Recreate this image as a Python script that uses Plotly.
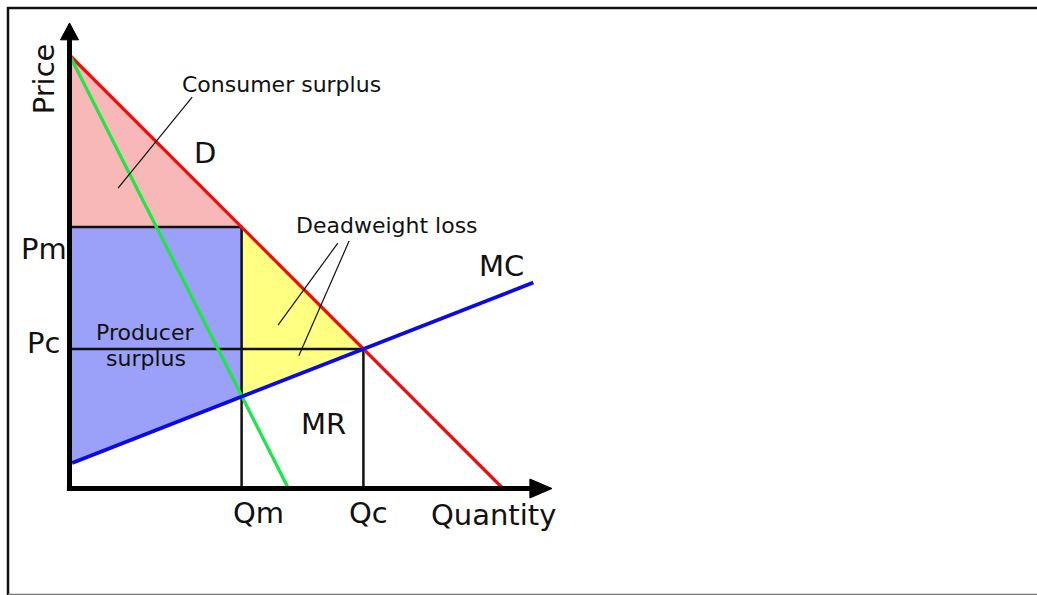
import plotly.graph_objects as go

# ---- data (price/quantity units, demand intercept = 100) ----
demand_q = [0, 100]
demand_p = [100, 0]
mr_q = [0, 50.5]
mr_p = [100, 0]
mc_q = [0.6, 107.0]
mc_p = [5.9, 47.5]
mc_at_zero = 5.7
qm, pm = 39.7, 60.3          # monopoly quantity / price
mc_at_qm = 21.3              # MC = MR at Qm
qc, pc = 67.8, 32.2          # competitive quantity / price
axis_q_end, axis_p_end = 106.7, 104.0
arrow_q_tip, arrow_p_tip = 111.3, 107.4

# pixel mapping used for the canvas: origin at (69.5, 488.5), 4.335 px per unit
W, H = 1037, 595
S, X0, Y0 = 4.335, 69.5, 488.5
xr = [-X0 / S, (W - X0) / S]
yr = [(Y0 - H) / S, Y0 / S]

FONT = "DejaVu Sans"
fig = go.Figure()

def poly(xs, ys, color):
    fig.add_trace(go.Scatter(x=xs, y=ys, fill="toself", fillcolor=color, mode="none",
                             hoverinfo="skip", showlegend=False))

def line(xs, ys, color, width):
    fig.add_trace(go.Scatter(x=xs, y=ys, mode="lines", line=dict(color=color, width=width),
                             hoverinfo="skip", showlegend=False))

# filled areas
poly([0, qm, 0, 0], [demand_p[0], pm, pm, demand_p[0]], "#f9b8b8")            # consumer surplus
poly([0, qm, qm, 0, 0], [pm, pm, mc_at_qm, mc_at_zero, pm], "#9ba0f9")        # producer surplus
poly([qm, qc, qm, qm], [pm, pc, mc_at_qm, pm], "#ffff82")                     # deadweight loss

# black guide lines
line([0, qm, qm], [pm, pm, 0], "#111111", 2.5)
line([0, qc, qc], [pc, pc, 0], "#111111", 2.5)

# curves
line(demand_q, demand_p, "#ee1010", 3.3)
line(mr_q, mr_p, "#20e548", 3.3)
line(mc_q, mc_p, "#0a0ae8", 3.7)

# leader lines
line([28.3, 11.2], [90.3, 69.3], "#111111", 1.2)
line([61.9, 48.1], [56.6, 37.7], "#111111", 1.2)
line([64.5, 52.9], [57.1, 30.6], "#111111", 1.2)

# axes with arrowheads
line([0, 0], [-0.6, axis_p_end], "black", 5)
line([-0.6, axis_q_end], [0, 0], "black", 5)
hw_x = 9 / S
fig.add_trace(go.Scatter(x=[-hw_x, 0, hw_x, -hw_x], y=[axis_p_end - 0.5, arrow_p_tip, axis_p_end - 0.5, axis_p_end - 0.5],
                         fill="toself", fillcolor="black", mode="lines", line=dict(color="black", width=1),
                         hoverinfo="skip", showlegend=False))
hw_y = 9.5 / S
fig.add_trace(go.Scatter(x=[axis_q_end - 0.5, arrow_q_tip, axis_q_end - 0.5, axis_q_end - 0.5], y=[-hw_y, 0, hw_y, -hw_y],
                         fill="toself", fillcolor="black", mode="lines", line=dict(color="black", width=1),
                         hoverinfo="skip", showlegend=False))

# labels
big, small = 29, 22
labels = [
    ("Price", -6.0, 94.5, big, -90),
    ("Consumer surplus", 48.8, 93.3, small, 0),
    ("D", 31.3, 77.4, big, 0),
    ("Deadweight loss", 73.2, 60.7, small, 0),
    ("MC", 99.7, 51.3, big, 0),
    ("Pm", -5.9, 55.2, big, 0),
    ("Producer", 17.4, 36.0, small, 0),
    ("surplus", 17.7, 29.9, small, 0),
    ("Pc", -6.1, 33.6, big, 0),
    ("MR", 58.5, 14.9, big, 0),
    ("Qm", 43.7, -5.7, big, 0),
    ("Qc", 69.0, -5.7, big, 0),
    ("Quantity", 97.7, -6.1, big, 0),
]
for txt, x, y, size, ang in labels:
    fig.add_annotation(x=x, y=y, text=txt, showarrow=False, xanchor="center", yanchor="middle",
                       textangle=ang, font=dict(family=FONT, size=size, color="#111111"))

# frame of the picture
fig.add_shape(type="line", xref="paper", yref="paper", x0=7 / W, x1=1, y0=1 - 8 / H, y1=1 - 8 / H,
              line=dict(color="#111111", width=2.5))
fig.add_shape(type="line", xref="paper", yref="paper", x0=8 / W, x1=8 / W, y0=1 - 7 / H, y1=0,
              line=dict(color="#111111", width=2.5))
fig.add_shape(type="line", xref="paper", yref="paper", x0=8 / W, x1=1, y0=0.6 / H, y1=0.6 / H,
              line=dict(color="#777777", width=1.5))

fig.update_layout(
    width=W, height=H, margin=dict(l=0, r=0, t=0, b=0),
    paper_bgcolor="white", plot_bgcolor="white",
    xaxis=dict(range=xr, visible=False, fixedrange=True),
    yaxis=dict(range=yr, visible=False, fixedrange=True),
    showlegend=False, font=dict(family=FONT),
)

fig.write_html("out.html", config={"displayModeBar": False},
               post_script="document.body.style.margin='0';document.body.style.overflow='hidden';")
